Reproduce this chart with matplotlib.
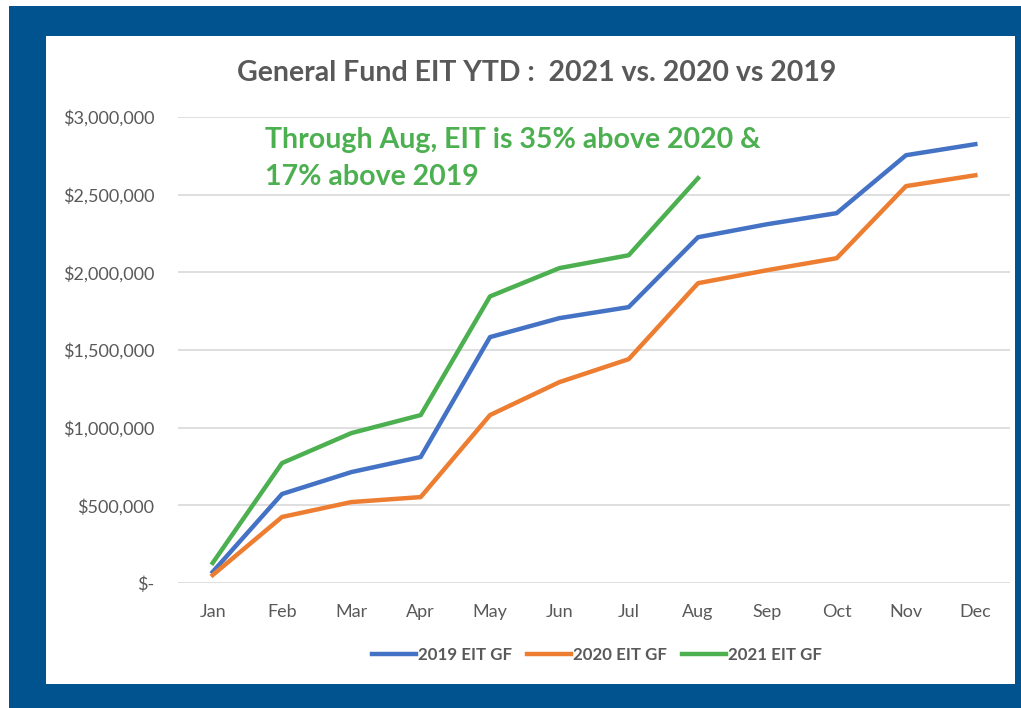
import matplotlib.pyplot as plt
from matplotlib.patches import Rectangle
from matplotlib.ticker import FuncFormatter

plt.rcParams['font.family'] = ['Lato', 'DejaVu Sans']

months = ["Jan", "Feb", "Mar", "Apr", "May", "Jun", "Jul", "Aug", "Sep", "Oct", "Nov", "Dec"]
eit_2019 = [71000, 573000, 714000, 811000, 1583000, 1705000, 1776000, 2226000, 2310000, 2381000, 2754000, 2825000]
eit_2020 = [51000, 425000, 521000, 553000, 1081000, 1293000, 1441000, 1930000, 2014000, 2091000, 2555000, 2625000]
eit_2021 = [129000, 772000, 965000, 1081000, 1845000, 2027000, 2110000, 2606000]

W, H = 1021, 708
fig = plt.figure(figsize=(W / 100, H / 100), dpi=100)
fig.patch.set_facecolor("white")

# blue frame around the chart
blue = "#00538F"
fig.patches.append(Rectangle((9 / W, 0), (W - 9) / W, (H - 6) / H, transform=fig.transFigure,
                             facecolor=blue, edgecolor="none", zorder=-2))
fig.patches.append(Rectangle((46 / W, (H - 684) / H), (1015 - 46) / W, (684 - 36) / H,
                             transform=fig.transFigure, facecolor="white", edgecolor="none", zorder=-1))

ax = fig.add_axes([178 / W, (H - 583) / H, (1010 - 178) / W, (583 - 117) / H])
ax.set_facecolor("none")

x = list(range(len(months)))
ax.plot(x, eit_2019, color="#4472C4", lw=3.2, label="2019 EIT GF", solid_joinstyle="round")
ax.plot(x, eit_2020, color="#ED7D31", lw=3.2, label="2020 EIT GF", solid_joinstyle="round")
ax.plot(x[:len(eit_2021)], eit_2021, color="#4CB050", lw=3.2, label="2021 EIT GF", solid_joinstyle="round")

ax.set_xlim(-0.5, 11.5)
ax.set_ylim(0, 3000000)
ax.set_yticks(range(0, 3000001, 500000))
ax.yaxis.set_major_formatter(FuncFormatter(lambda v, p: "$-" if v == 0 else f"${v:,.0f}"))
ax.set_xticks(x)
ax.set_xticklabels(months)
ax.grid(axis="y", color="#D9D9D9", lw=1.2)
ax.set_axisbelow(True)
for s in ax.spines.values():
    s.set_visible(False)
ax.tick_params(length=0, labelsize=13, colors="#595959")
ax.tick_params(axis="x", pad=15)
ax.tick_params(axis="y", pad=17)

fig.text(537 / W, 1 - 73 / H, "General Fund EIT YTD :  2021 vs. 2020 vs 2019", ha="center", va="center",
         fontsize=20.5, fontweight="bold", color="#595959")
fig.text(265 / W, 1 - 140 / H, "Through Aug, EIT is 35% above 2020 &", ha="left", va="center",
         fontsize=20.5, fontweight="bold", color="#4CB050")
fig.text(265 / W, 1 - 177 / H, "17% above 2019", ha="left", va="center",
         fontsize=20.5, fontweight="bold", color="#4CB050")

leg = fig.legend(loc="center", bbox_to_anchor=(597 / W, 1 - 655 / H), ncol=3, frameon=False,
                 fontsize=12.2, handlelength=2.6, handletextpad=0.1, columnspacing=0.9)
for t in leg.get_texts():
    t.set_color("#595959")
    t.set_fontweight("bold")

fig.savefig("out.png", dpi=100)
